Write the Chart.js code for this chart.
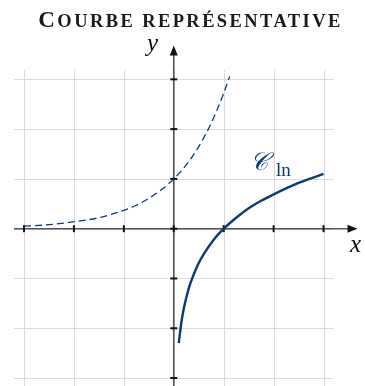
<!DOCTYPE html>
<html>
<head>
<meta charset="utf-8">
<script src="https://cdn.jsdelivr.net/npm/chart.js@4"></script>
<style>
  body { margin: 0; background: #fff; }
  #wrap { position: relative; width: 365px; height: 386px; }
  #title {
    position: absolute; left: 8px; top: 8px; width: 365px;
    text-align: center; font-family: "Liberation Serif", serif;
    font-weight: bold; line-height: 24px; color: #1a1a1a; white-space: nowrap;
  }
  #title .cap { font-size: 23px; letter-spacing: 2.4px; }
  #title .sc { font-size: 18.5px; text-transform: uppercase; letter-spacing: 2.4px; }
</style>
</head>
<body>
<div id="wrap">
  <canvas id="courbe" width="365" height="386"></canvas>
  <div id="title"><span class="cap">C</span><span class="sc">ourbe représentative</span></div>
</div>
<script>
// Points: solid curve (ln) and dashed curve (exp)
const lnX = [0.1, 0.15, 0.2, 0.3, 0.4, 0.5, 0.6, 0.8, 1, 1.25, 1.5, 1.75, 2, 2.25, 2.5, 2.75, 3];
const lnY = [-2.30, -1.90, -1.61, -1.20, -0.92, -0.69, -0.51, -0.22, 0, 0.22, 0.41, 0.56, 0.69, 0.81, 0.92, 1.01, 1.10];
const expX = [-3, -2.5, -2, -1.5, -1, -0.75, -0.5, -0.25, 0, 0.25, 0.5, 0.75, 1, 1.12];
const expY = [0.05, 0.08, 0.14, 0.22, 0.37, 0.47, 0.61, 0.78, 1, 1.28, 1.65, 2.12, 2.72, 3.06];

// Integer ticks on both axes
const xTicks = [-3, -2, -1, 0, 1, 2, 3];
const yTicks = [-3, -2, -1, 0, 1, 2, 3];

const curveLabel = '𝒞';
const curveSub = 'ln';

const navy = '#0c3b70';

function toPoints(xs, ys) {
  return xs.map((x, i) => ({ x: x, y: ys[i] }));
}

// Grid, axes with arrows and tick marks, drawn behind the curves
const repere = {
  id: 'repere',
  beforeDatasetsDraw(chart) {
    const ctx = chart.ctx;
    const xs = chart.scales.x, ys = chart.scales.y;
    const px = v => xs.getPixelForValue(v);
    const py = v => ys.getPixelForValue(v);

    ctx.save();
    // grid
    ctx.strokeStyle = '#dcdcdc';
    ctx.lineWidth = 1;
    xTicks.forEach(t => {
      ctx.beginPath();
      ctx.moveTo(Math.round(px(t)) + 0.5, py(3.2));
      ctx.lineTo(Math.round(px(t)) + 0.5, py(-3.3));
      ctx.stroke();
    });
    yTicks.forEach(t => {
      ctx.beginPath();
      ctx.moveTo(px(-3.2), Math.round(py(t)) + 0.5);
      ctx.lineTo(px(3.2), Math.round(py(t)) + 0.5);
      ctx.stroke();
    });

    // axes
    ctx.strokeStyle = '#555';
    ctx.fillStyle = '#111';
    ctx.lineWidth = 1.6;
    const x0 = px(0), y0 = py(0);
    ctx.beginPath();
    ctx.moveTo(px(-3.2), y0);
    ctx.lineTo(px(3.5), y0);
    ctx.stroke();
    ctx.beginPath();
    ctx.moveTo(x0, py(-3.3));
    ctx.lineTo(x0, py(3.5));
    ctx.stroke();

    // arrow heads
    const tipX = px(3.68), tipY = py(3.68);
    ctx.beginPath();
    ctx.moveTo(tipX, y0);
    ctx.lineTo(tipX - 10, y0 - 4);
    ctx.lineTo(tipX - 10, y0 + 4);
    ctx.closePath();
    ctx.fill();
    ctx.beginPath();
    ctx.moveTo(x0, tipY);
    ctx.lineTo(x0 - 4, tipY + 10);
    ctx.lineTo(x0 + 4, tipY + 10);
    ctx.closePath();
    ctx.fill();

    // tick marks
    ctx.strokeStyle = '#111';
    ctx.lineWidth = 2;
    xTicks.forEach(t => {
      ctx.beginPath();
      ctx.moveTo(px(t), y0 - 3.5);
      ctx.lineTo(px(t), y0 + 3.5);
      ctx.stroke();
    });
    yTicks.forEach(t => {
      ctx.beginPath();
      ctx.moveTo(x0 - 3.5, py(t));
      ctx.lineTo(x0 + 3.5, py(t));
      ctx.stroke();
    });
    ctx.restore();
  },
  afterDatasetsDraw(chart) {
    const ctx = chart.ctx;
    ctx.save();
    ctx.fillStyle = '#111';
    ctx.font = 'italic 25px "Liberation Serif", serif';
    ctx.textAlign = 'left';
    ctx.textBaseline = 'alphabetic';
    ctx.fillText('x', 350, 252);
    ctx.fillText('y', 147, 51);

    ctx.fillStyle = navy;
    ctx.font = 'italic 25px "DejaVu Serif", "Liberation Serif", serif';
    ctx.fillText(curveLabel, 250, 170);
    ctx.font = '19px "Liberation Serif", serif';
    ctx.fillText(curveSub, 276, 176);
    ctx.restore();
  }
};

new Chart(document.getElementById('courbe'), {
  type: 'scatter',
  data: {
    datasets: [
      {
        data: toPoints(expX, expY),
        showLine: true,
        borderColor: navy,
        borderWidth: 1.3,
        borderDash: [7, 4],
        pointRadius: 0,
        cubicInterpolationMode: 'monotone'
      },
      {
        data: toPoints(lnX, lnY),
        showLine: true,
        borderColor: navy,
        borderWidth: 2.4,
        pointRadius: 0,
        cubicInterpolationMode: 'monotone'
      }
    ]
  },
  plugins: [repere],
  options: {
    responsive: false,
    animation: false,
    layout: { padding: { left: 14, right: 4, top: 42, bottom: 0 } },
    plugins: { legend: { display: false }, title: { display: false }, tooltip: { enabled: false } },
    scales: {
      x: { type: 'linear', min: -3.2, max: 3.75, display: false },
      y: { type: 'linear', min: -3.16, max: 3.75, display: false }
    }
  }
});
</script>
</body>
</html>
